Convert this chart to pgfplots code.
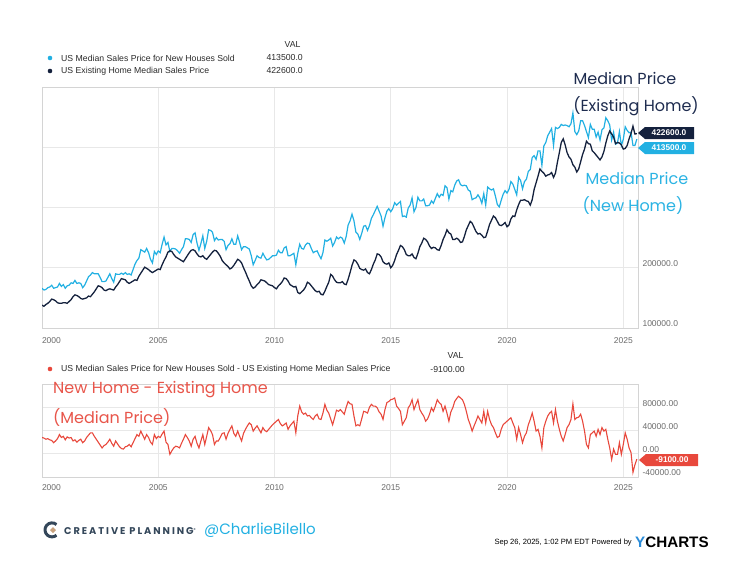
\documentclass[border=0pt]{standalone}
\usepackage{fontspec}
\usepackage{pgfplots}
\pgfplotsset{compat=1.18}
\usepackage{pgfplotstable}
\setmainfont{Liberation Sans}
\newfontfamily\hand{Poppins}
\newfontfamily\cpfont[LetterSpace=20]{Poppins}
\definecolor{newc}{HTML}{22B0E2}
\definecolor{exc}{HTML}{14213D}
\definecolor{diffc}{HTML}{E8483C}
\definecolor{gridc}{HTML}{E8E8E8}
\definecolor{framec}{HTML}{D4D4D4}
\definecolor{tickc}{HTML}{6B6B6B}
\definecolor{legc}{HTML}{2B2B2B}
\definecolor{annex}{HTML}{1E2C4F}
\definecolor{annnew}{HTML}{2BB3E3}
\definecolor{anndiff}{HTML}{E8554A}
\definecolor{cpnavy}{HTML}{34475A}
\definecolor{cptan}{HTML}{C9A27E}
\definecolor{ycblue}{HTML}{2A8BD8}

\pgfplotstableread[row sep=\\]{
t ex new diff\\
0 138 166 28\\ 1 136 163 27\\ 2 139 164 25\\ 3 141 167 26\\ 4 144 168 24\\ 5 148 171 23\\
6 147 166 19\\ 7 145 167 22\\ 8 142 168 26\\ 9 141 174 33\\ 10 141 169 28\\ 11 142 172 30\\
12 142 166 24\\ 13 141 170 29\\ 14 144 171 27\\ 15 147 175 28\\ 16 152 174 22\\ 17 155 179 24\\
18 154 174 20\\ 19 152 175 23\\ 20 149 174 25\\ 21 148 167 19\\ 22 149 171 22\\ 23 150 178 28\\
24 153 185 32\\ 25 152 188 36\\ 26 156 192 36\\ 27 160 190 30\\ 28 165 190 25\\ 29 170 190 20\\
30 169 184 15\\ 31 167 177 10\\ 32 163 177 14\\ 33 162 178 16\\ 34 164 184 20\\ 35 165 190 25\\
36 164 182 18\\ 37 163 176 13\\ 38 168 190 22\\ 39 172 189 17\\ 40 177 189 12\\ 41 182 191 9\\
42 181 189 8\\ 43 180 192 12\\ 44 176 189 13\\ 45 174 190 16\\ 46 176 188 12\\ 47 178 197 19\\
48 180 206 26\\ 49 179 212 33\\ 50 186 216 30\\ 51 191 230 39\\ 52 196 228 32\\ 53 201 226 25\\
54 199 232 33\\ 55 197 225 28\\ 56 194 214 20\\ 57 192 208 16\\ 58 194 227 33\\ 59 196 222 26\\
60 198 228 30\\ 61 197 225 28\\ 62 205 239 34\\ 63 212 251 39\\ 64 218 238 20\\ 65 226 242 16\\
66 228 227 -1\\ 67 227 232 5\\ 68 222 232 10\\ 69 218 231 13\\ 70 216 228 12\\ 71 214 224 10\\
72 212 230 18\\ 73 210 235 25\\ 74 215 248 33\\ 75 220 248 28\\ 76 225 247 22\\ 77 229 242 13\\
78 230 255 25\\ 79 228 258 30\\ 80 223 241 18\\ 81 219 229 10\\ 82 218 240 22\\ 83 220 253 33\\
84 216 232 16\\ 85 214 244 30\\ 86 218 263 45\\ 87 222 262 40\\ 88 226 259 33\\ 89 229 245 16\\
90 228 250 22\\ 91 224 246 22\\ 92 219 247 28\\ 93 212 247 35\\ 94 208 244 36\\ 95 205 230 25\\
96 202 237 35\\ 97 198 240 42\\ 98 200 248 48\\ 99 204 239 35\\ 100 209 239 30\\ 101 214 253 39\\
102 212 242 30\\ 103 208 230 22\\ 104 200 235 35\\ 105 193 235 42\\ 106 185 233 48\\ 107 178 231 53\\
108 170 220 50\\ 109 166 205 39\\ 110 168 212 44\\ 111 172 220 48\\ 112 175 217 42\\ 113 180 216 36\\
114 179 224 45\\ 115 178 218 40\\ 116 175 213 38\\ 117 172 214 42\\ 118 171 217 46\\ 119 170 220 50\\
120 167 220 53\\ 121 165 221 56\\ 122 170 229 59\\ 123 173 225 52\\ 124 177 225 48\\ 125 183 233 50\\
126 182 235 53\\ 127 178 220 42\\ 128 172 220 48\\ 129 170 222 52\\ 130 168 224 56\\ 131 169 205 36\\
132 159 224 65\\ 133 157 239 82\\ 134 160 232 72\\ 135 163 231 68\\ 136 168 238 70\\ 137 176 241 65\\
138 174 240 66\\ 139 170 232 62\\ 140 166 225 59\\ 141 162 227 65\\ 142 160 228 68\\ 143 161 221 60\\
144 156 215 59\\ 145 155 225 70\\ 146 161 246 85\\ 147 169 244 75\\ 148 176 246 70\\ 149 189 249 60\\
150 186 236 50\\ 151 180 242 62\\ 152 176 251 75\\ 153 175 248 73\\ 154 175 251 76\\ 155 177 249 72\\
156 173 241 68\\ 157 172 252 80\\ 158 181 271 90\\ 159 192 278 86\\ 160 204 289 85\\ 161 213 278 65\\
162 211 259 48\\ 163 206 256 50\\ 164 199 247 48\\ 165 197 257 60\\ 166 196 269 73\\ 167 198 270 72\\
168 192 262 70\\ 169 190 270 80\\ 170 197 282 85\\ 171 206 288 82\\ 172 213 295 82\\ 173 223 302 79\\
174 222 294 72\\ 175 218 286 68\\ 176 210 269 59\\ 177 207 283 76\\ 178 206 294 88\\ 179 208 298 90\\
180 200 293 93\\ 181 204 298 94\\ 182 212 308 96\\ 183 222 304 82\\ 184 229 307 78\\ 185 237 310 73\\
186 235 285 50\\ 187 230 286 56\\ 188 222 284 62\\ 189 220 299 79\\ 190 220 304 84\\ 191 223 316 93\\
192 217 293 76\\ 193 215 300 85\\ 194 224 317 93\\ 195 235 311 76\\ 196 241 311 70\\ 197 249 314 65\\
198 247 303 56\\ 199 243 303 60\\ 200 236 304 68\\ 201 232 311 79\\ 202 234 307 73\\ 203 233 315 82\\
204 230 323 93\\ 205 229 317 88\\ 206 237 322 85\\ 207 247 320 73\\ 208 254 336 82\\ 209 263 333 70\\
210 258 314 56\\ 211 256 328 72\\ 212 247 326 79\\ 213 247 337 90\\ 214 249 344 95\\ 215 247 346 99\\
216 242 338 96\\ 217 243 336 93\\ 218 252 337 85\\ 219 263 336 73\\ 220 270 329 59\\ 221 277 327 50\\
222 274 313 39\\ 223 267 315 48\\ 224 260 316 56\\ 225 256 321 65\\ 226 257 316 59\\ 227 254 307 53\\
228 250 323 73\\ 229 251 304 53\\ 230 261 334 73\\ 231 272 331 59\\ 232 279 329 50\\ 233 286 331 45\\
234 283 319 36\\ 235 277 305 28\\ 236 271 301 30\\ 237 270 312 42\\ 238 272 322 50\\ 239 275 328 53\\
240 268 324 56\\ 241 271 330 59\\ 242 281 343 62\\ 243 286 339 53\\ 244 285 330 45\\ 245 296 321 25\\
246 305 350 45\\ 247 312 345 33\\ 248 312 331 19\\ 249 313 343 30\\ 250 311 347 36\\ 251 310 360 50\\
252 304 363 59\\ 253 313 383 70\\ 254 330 386 56\\ 255 341 380 39\\ 256 352 394 42\\ 257 364 394 30\\
258 360 370 10\\ 259 357 402 45\\ 260 352 408 56\\ 261 354 419 65\\ 262 355 425 70\\ 263 358 431 73\\
264 350 403 53\\ 265 357 433 76\\ 266 375 431 56\\ 267 391 433 42\\ 268 408 438 30\\ 269 414 436 22\\
270 404 437 33\\ 271 391 436 45\\ 272 384 434 50\\ 273 380 439 59\\ 274 371 457 86\\ 275 367 426 59\\
276 359 421 62\\ 277 364 427 63\\ 278 376 444 68\\ 279 388 444 56\\ 280 397 436 39\\ 281 410 426 16\\
282 406 416 10\\ 283 405 438 33\\ 284 394 430 36\\ 285 391 430 39\\ 286 387 417 30\\ 287 383 425 42\\
288 379 412 33\\ 289 384 429 45\\ 290 393 432 39\\ 291 407 449 42\\ 292 419 444 25\\ 293 427 437 10\\
294 422 412 -10\\ 295 417 425 8\\ 296 406 405 -1\\ 297 408 407 -1\\ 298 407 426 19\\ 299 404 403 -1\\
300 397 413 16\\ 301 398 434 36\\ 302 403 428 25\\ 303 414 424 10\\ 304 423 425 2\\ 305 435 403 -32\\
306 422 403 -19\\ 307 422.6 413.5 -9.1\\
}\housing

\pgfplotsset{
  common/.style={
    scale only axis, anchor=south west, width=596pt,
    xmin=0, xmax=307.6,
    xtick={0,60,120,180,240,300},
    xticklabels={\makebox[0pt][l]{2000},2005,2010,2015,2020,2025},
    grid=major, major grid style={draw=gridc, line width=0.6pt},
    axis line style={draw=framec, line width=0.8pt},
    tick style={draw=none},
    yticklabel pos=right,
    yticklabel style={anchor=west, xshift=1pt, yshift=4pt, font=\fontsize{8.5}{10}\selectfont, text=tickc},
    xticklabel style={font=\fontsize{8.5}{10}\selectfont, text=tickc},
  }
}

\begin{document}
\begin{tikzpicture}[x=1pt,y=1pt]
\path[use as bounding box] (0pt,0pt) rectangle (749pt,-587pt);

% top legend
\begin{scope}[font=\fontsize{8.7}{10}\selectfont, text=legc]
\node[anchor=east] at (304pt,-45pt) {VAL};
\fill[newc] (50pt,-58pt) circle (2.3pt);
\node[anchor=west, inner sep=0] at (61pt,-58pt) {US Median Sales Price for New Houses Sold};
\node[anchor=east, inner sep=0] at (303pt,-58pt) {413500.0};
\fill[exc] (50pt,-71pt) circle (2.3pt);
\node[anchor=west, inner sep=0] at (61pt,-71pt) {US Existing Home Median Sales Price};
\node[anchor=east, inner sep=0] at (303pt,-71pt) {422600.0};
\end{scope}

\begin{axis}[common, at={(42pt,-328pt)}, height=241pt,
  ymin=100, ymax=500, ytick={100,200,300,400,500},
  yticklabels={100000.0,200000.0,{},{},{}},
  xticklabel style={yshift=-6pt}]
\addplot[newc, line width=1.2pt] table[x=t,y=new]{\housing};
\addplot[exc, line width=1.3pt] table[x=t,y=ex]{\housing};
\end{axis}

% top value tags
\fill[exc] (638pt,-133pt) -- (645pt,-127pt) -- (694pt,-127pt) -- (694pt,-139pt) -- (645pt,-139pt) -- cycle;
\node[text=white, font=\bfseries\fontsize{8.3}{9}\selectfont, inner sep=0] at (669pt,-133pt) {422600.0};
\fill[newc] (638pt,-148pt) -- (645pt,-142pt) -- (694pt,-142pt) -- (694pt,-154pt) -- (645pt,-154pt) -- cycle;
\node[text=white, font=\bfseries\fontsize{8.3}{9}\selectfont, inner sep=0] at (669pt,-148pt) {413500.0};

% annotations top
\node[text=annex, font=\hand\fontsize{16}{18}\selectfont, inner sep=0] at (625pt,-78pt) {Median Price};
\node[text=annex, font=\hand\fontsize{16}{18}\selectfont, inner sep=0] at (636pt,-106pt) {(Existing Home)};
\node[text=annnew, font=\hand\fontsize{16}{18}\selectfont, inner sep=0] at (637pt,-178pt) {Median Price};
\node[text=annnew, font=\hand\fontsize{16}{18}\selectfont, inner sep=0] at (633pt,-206pt) {(New Home)};

% bottom legend
\begin{scope}[font=\fontsize{8.7}{10}\selectfont, text=legc]
\node[anchor=east] at (467pt,-355pt) {VAL};
\fill[diffc] (50pt,-369pt) circle (2.3pt);
\node[anchor=west, inner sep=0] at (61pt,-369pt) {US Median Sales Price for New Houses Sold - US Existing Home Median Sales Price};
\node[anchor=east, inner sep=0] at (465pt,-369pt) {-9100.00};
\end{scope}

\begin{axis}[common, at={(42pt,-477pt)}, height=93pt,
  ymin=-40, ymax=120, ytick={-40,0,40,80},
  yticklabels={-40000.00,0.00,40000.00,80000.00},
  xticklabel style={yshift=-4pt}]
\addplot[diffc, line width=1.1pt] table[x=t,y=diff]{\housing};
\end{axis}

\fill[diffc] (639pt,-460pt) -- (646pt,-454pt) -- (698pt,-454pt) -- (698pt,-466pt) -- (646pt,-466pt) -- cycle;
\node[text=white, font=\bfseries\fontsize{8.3}{9}\selectfont, inner sep=0] at (672pt,-460pt) {-9100.00};

\node[text=anndiff, font=\hand\fontsize{16}{18}\selectfont, inner sep=0, anchor=west] at (53pt,-390pt) {New Home - Existing Home};
\node[text=anndiff, font=\hand\fontsize{16}{18}\selectfont, inner sep=0, anchor=west] at (53pt,-418pt) {(Median Price)};

% footer
\draw[cpnavy, line width=3pt] (56.5pt,-524.5pt) arc[start angle=50, end angle=310, radius=7pt];
\fill[cptan] (53pt,-527pt) -- (56pt,-530pt) -- (53pt,-533pt) -- (50pt,-530pt) -- cycle;
\node[anchor=west, inner sep=0, text=cpnavy, font=\cpfont\bfseries\fontsize{9.8}{11}\selectfont] at (64pt,-531pt) {CREATIVE PLANNING\raisebox{3pt}{\fontsize{4}{4}\selectfont\textregistered}};
\node[anchor=west, inner sep=0, text=newc, font=\hand\fontsize{15}{17}\selectfont] at (204pt,-530pt) {@CharlieBilello};
\node[anchor=east, inner sep=0, text=black, font=\fontsize{7.6}{9}\selectfont] at (632pt,-543pt) {Sep 26, 2025, 1:02 PM EDT Powered by};
\node[anchor=west, inner sep=0, font=\bfseries\fontsize{15.2}{17}\selectfont] at (635pt,-542pt) {\textcolor{ycblue}{Y}CHARTS};
\end{tikzpicture}
\end{document}
